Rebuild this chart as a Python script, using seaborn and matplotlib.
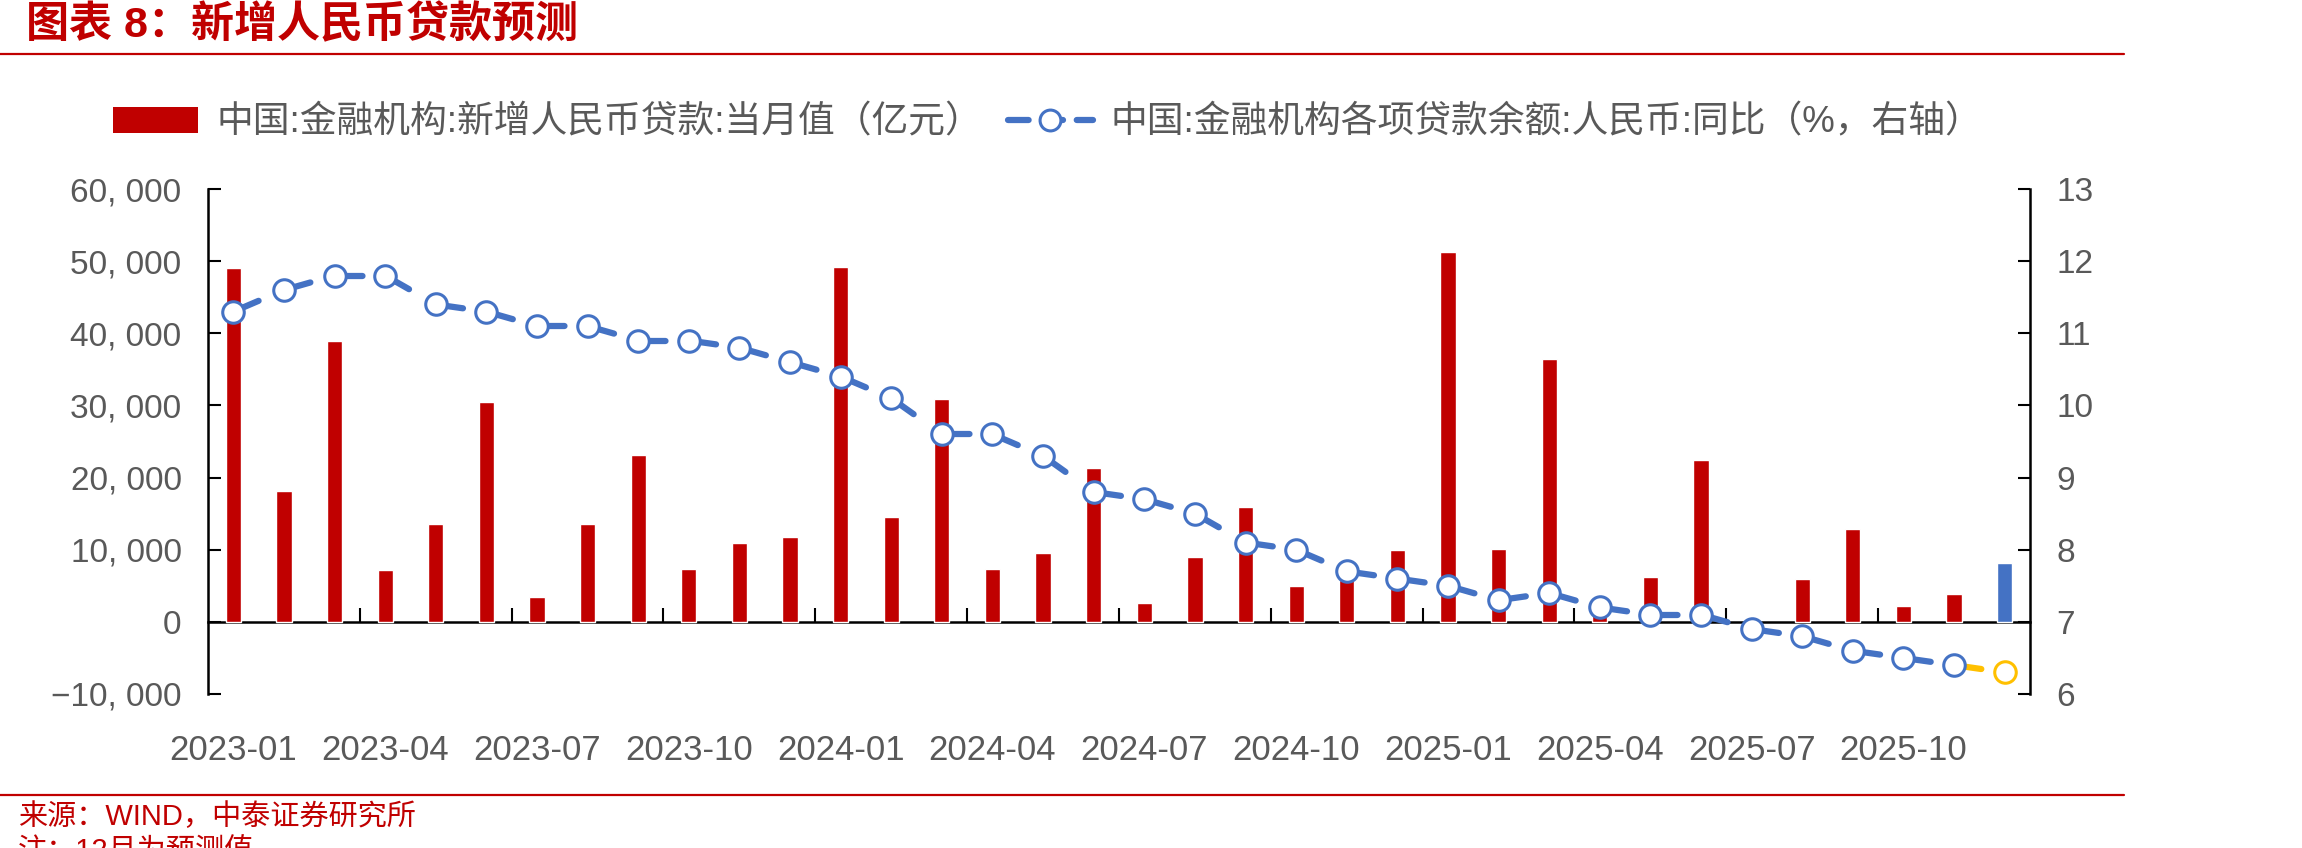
import numpy as np
import pandas as pd
import seaborn as sns
import matplotlib.pyplot as plt
from matplotlib.patches import Patch
from matplotlib.lines import Line2D
from matplotlib.ticker import FuncFormatter

# Data
months = [p.strftime('%Y-%m') for p in pd.period_range('2023-01', '2025-12', freq='M')]
new_loans = [49000, 18100, 38900, 7188, 13600, 30500, 3459, 13600, 23100, 7384, 10900, 11700,
             49200, 14500, 30900, 7300, 9500, 21300, 2600, 9000, 15900, 5000, 5800, 9900,
             51300, 10100, 36400, 2800, 6200, 22400, -500, 5900, 12900, 2200, 3900, 8200]
loan_yoy = [11.3, 11.6, 11.8, 11.8, 11.4, 11.3, 11.1, 11.1, 10.9, 10.9, 10.8, 10.6,
            10.4, 10.1, 9.6, 9.6, 9.3, 8.8, 8.7, 8.5, 8.1, 8.0, 7.7, 7.6,
            7.5, 7.3, 7.4, 7.2, 7.1, 7.1, 6.9, 6.8, 6.6, 6.5, 6.4, 6.3]
kind = ['实际'] * 35 + ['预测']
tick_labels = months[::3]

bar_label = '中国:金融机构:新增人民币贷款:当月值（亿元）'
line_label = '中国:金融机构各项贷款余额:人民币:同比（%，右轴）'

RED = '#C00000'
BLUE = '#4472C4'
YELLOW = '#FFC000'
GREY = '#595959'

sns.set_theme(style='white')
plt.rcParams['font.family'] = ['Liberation Sans', 'Noto Sans CJK SC', 'DejaVu Sans']
plt.rcParams['axes.unicode_minus'] = True

fig = plt.figure(figsize=(23.02, 8.48), dpi=100)
ax = fig.add_axes([208 / 2302, 1 - 694 / 848, (2030 - 208) / 2302, (694 - 189) / 848])

# Bars
sns.barplot(x=months, y=new_loans, hue=kind, palette={'实际': RED, '预测': BLUE},
            dodge=False, width=0.3, saturation=1, errorbar=None, legend=False, ax=ax)
ax.set_xlim(-0.5, 35.5)
ax.set_ylim(-10000, 60000)
ax.set_yticks(np.arange(-10000, 60001, 10000))
ax.yaxis.set_major_formatter(FuncFormatter(lambda v, p: f'{v:,.0f}'.replace(',', ', ').replace('-', '−')))
ax.set_xticks(np.arange(0, 36, 3))
ax.set_xticklabels(tick_labels)
ax.set_xlabel('')
ax.set_ylabel('')
ax.tick_params(axis='x', length=0, pad=29, labelsize=25, labelcolor=GREY)
ax.tick_params(axis='y', direction='in', length=9, width=1.5, color='black',
               pad=19, labelsize=24, labelcolor=GREY, left=True)
for s in ['top', 'right', 'bottom']:
    ax.spines[s].set_visible(False)
ax.spines['left'].set_color('black')
ax.spines['left'].set_linewidth(1.8)

# Zero line with the quarter separators
sec = ax.secondary_xaxis(1 / 7)
sec.set_xticks(np.arange(2.5, 33, 3))
sec.tick_params(direction='in', length=10, width=1.5, color='black', labelbottom=False)
sec.spines['bottom'].set_color('black')
sec.spines['bottom'].set_linewidth(1.8)

# Line on right axis, each dash starting at a point
ax2 = ax.twinx()
xs = np.arange(len(loan_yoy))
for i in range(len(loan_yoy) - 1):
    c = YELLOW if i == len(loan_yoy) - 2 else BLUE
    ax2.plot(xs[i:i + 2], loan_yoy[i:i + 2], color=c, lw=4.5, ls=(0, (4.4, 100)),
             dash_capstyle='round', zorder=2)
sns.scatterplot(x=xs[:-1], y=loan_yoy[:-1], ax=ax2, marker='o', s=240, color='white',
                edgecolor=BLUE, linewidth=2.2, zorder=3, legend=False)
sns.scatterplot(x=xs[-1:], y=loan_yoy[-1:], ax=ax2, marker='o', s=240, color='white',
                edgecolor=YELLOW, linewidth=2.2, zorder=3, legend=False)
ax2.set_ylim(6, 13)
ax2.set_yticks(np.arange(6, 14, 1))
ax2.set_ylabel('')
ax2.tick_params(axis='y', direction='in', length=9, width=1.5, color='black',
                pad=19, labelsize=24, labelcolor=GREY, right=True)
for s in ['top', 'left', 'bottom']:
    ax2.spines[s].set_visible(False)
ax2.spines['right'].set_color('black')
ax2.spines['right'].set_linewidth(1.8)

# Legend
handles = [Patch(facecolor=RED, edgecolor='none'),
           Line2D([], [], color=BLUE, lw=4.5, ls=(0, (3.3, 2.2)), dash_capstyle='round',
                  marker='o', markersize=15, markerfacecolor='white',
                  markeredgecolor=BLUE, markeredgewidth=2.2)]
leg = fig.legend(handles, [bar_label, line_label], loc='center',
                 bbox_to_anchor=(1048 / 2302, 1 - 123 / 848), ncol=2, frameon=False,
                 fontsize=26.5, handlelength=2.3, columnspacing=0.7, handletextpad=0.5)
for t in leg.get_texts():
    t.set_color(GREY)

# Title, rules and notes
fig.text(26 / 2302, 1 - 26 / 848, '图表 8：新增人民币贷款预测', color=RED, fontsize=31,
         fontweight='bold', va='center', ha='left')
fig.add_artist(Line2D([0, 2124 / 2302], [1 - 54 / 848] * 2, color=RED, lw=1.6))
fig.add_artist(Line2D([0, 2124 / 2302], [1 - 795 / 848] * 2, color=RED, lw=1.6))
fig.text(18 / 2302, 1 - 817 / 848, '来源：WIND，中泰证券研究所', color=RED, fontsize=21,
         va='center', ha='left')
fig.text(18 / 2302, 1 - 838 / 848, '注：12月为预测值', color=RED, fontsize=21,
         va='top', ha='left')

fig.savefig('out.png', dpi=100)
